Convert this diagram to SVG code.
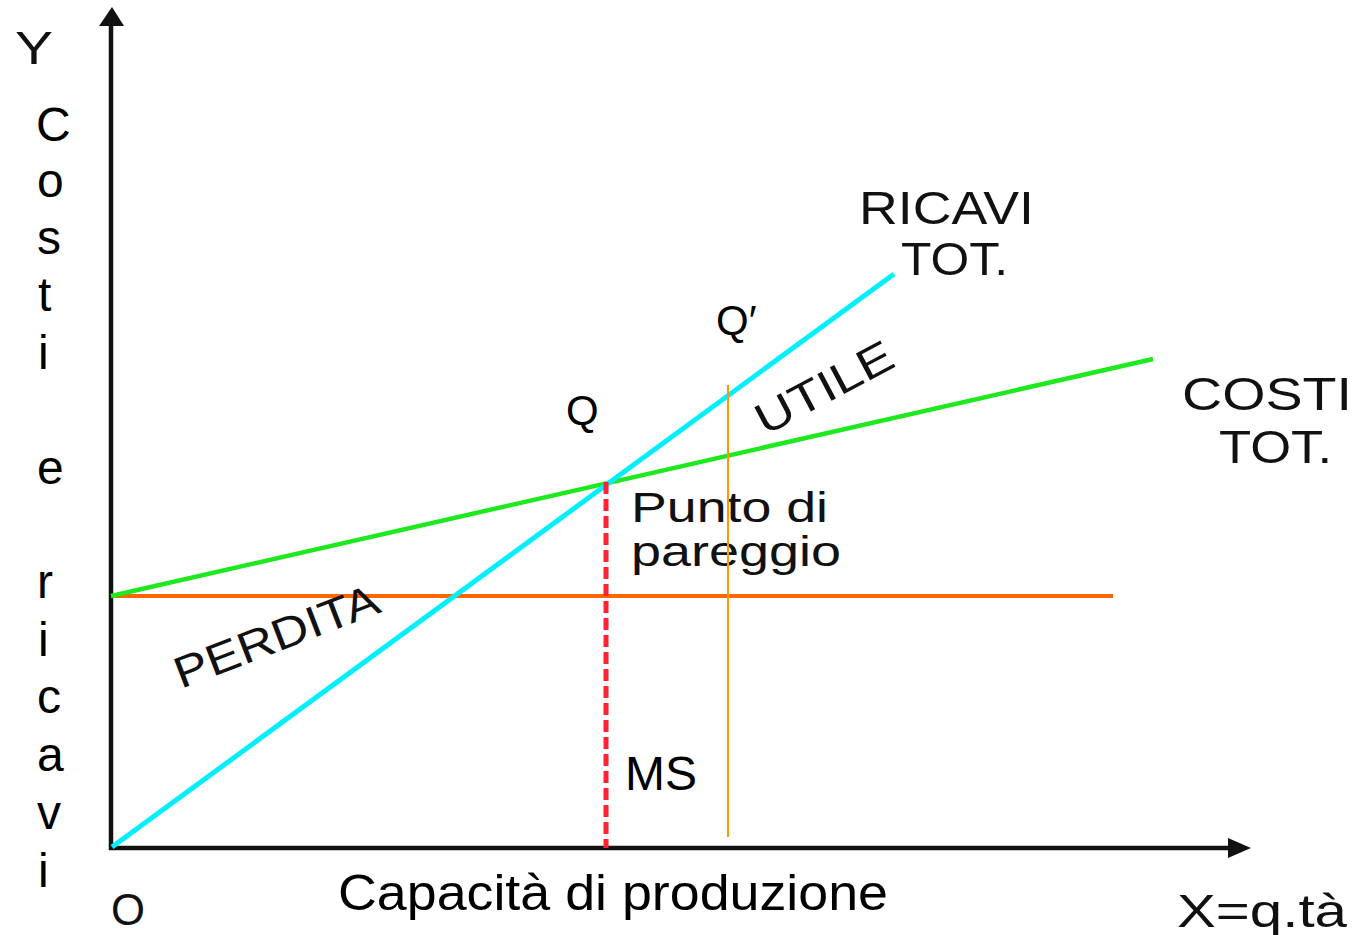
<svg xmlns="http://www.w3.org/2000/svg" width="1357" height="935" viewBox="0 0 1357 935">
<style>
.ax{stroke:#111;stroke-width:4.5;fill:none}
.thin{font-family:"Liberation Sans",Arial,sans-serif;fill:#000}
.hv{font-family:"Liberation Sans",Arial,sans-serif;fill:#111}
.vl{font-family:"Liberation Sans",Arial,sans-serif;font-size:48px;fill:#000}
</style>
<rect width="1357" height="935" fill="#fff"/>
<g id="connectors">
  <line class="ax" x1="111" y1="850" x2="111" y2="22"/>
  <polygon points="99,26 124,26 112,7" fill="#111"/>
  <line class="ax" x1="109" y1="848" x2="1232" y2="848"/>
  <polygon points="1228,838 1228,858 1251,848" fill="#111"/>
  <line x1="111" y1="596" x2="1113" y2="596" stroke="#ff6600" stroke-width="4"/>
  <line x1="111" y1="596" x2="1153" y2="359" stroke="#1ee81e" stroke-width="4.5"/>
  <line x1="112" y1="847" x2="894" y2="274" stroke="#00f0ff" stroke-width="5"/>
  <line x1="606" y1="482" x2="606" y2="848" stroke="#ff2233" stroke-width="5" stroke-dasharray="12 5"/>
</g>
<g id="label-y"><text class="hv" x="15" y="64" font-size="47" textLength="38" lengthAdjust="spacingAndGlyphs">Y</text></g>
<g id="label-axis-y">
  <text class="vl" x="36" y="141">C</text>
  <text class="vl" x="37" y="197">o</text>
  <text class="vl" x="37" y="254">s</text>
  <text class="vl" x="38" y="311">t</text>
  <text class="vl" x="38" y="369">i</text>
  <text class="vl" x="37" y="484">e</text>
  <text class="vl" x="37" y="598">r</text>
  <text class="vl" x="38" y="656">i</text>
  <text class="vl" x="37" y="713">c</text>
  <text class="vl" x="37" y="771">a</text>
  <text class="vl" x="37" y="829">v</text>
  <text class="vl" x="38" y="887">i</text>
</g>
<g id="label-origin"><text class="hv" x="111" y="925" font-size="45" textLength="34" lengthAdjust="spacingAndGlyphs">O</text></g>
<g id="label-x"><text class="hv" x="1177" y="927" font-size="47" textLength="170" lengthAdjust="spacingAndGlyphs">X=q.tà</text></g>
<g id="label-capacita"><text class="thin" x="338" y="910" font-size="50" textLength="550" lengthAdjust="spacingAndGlyphs">Capacità di produzione</text></g>
<g id="label-ricavi">
  <text class="hv" x="859" y="224" font-size="47" textLength="175" lengthAdjust="spacingAndGlyphs">RICAVI</text>
  <text class="hv" x="901" y="275" font-size="47" textLength="107" lengthAdjust="spacingAndGlyphs">TOT.</text>
</g>
<g id="label-costi">
  <text class="hv" x="1182" y="410" font-size="47" textLength="170" lengthAdjust="spacingAndGlyphs">COSTI</text>
  <text class="hv" x="1219" y="463" font-size="47" textLength="113" lengthAdjust="spacingAndGlyphs">TOT.</text>
</g>
<g id="label-q"><text class="thin" x="566" y="425" font-size="42">Q</text></g>
<g id="label-q2"><text class="thin" x="716" y="335" font-size="42">Q′</text></g>
<g id="label-ms"><text class="thin" x="625" y="790" font-size="48">MS</text></g>
<g id="label-pareggio">
  <text class="hv" x="631" y="522" font-size="42" textLength="197" lengthAdjust="spacingAndGlyphs">Punto di</text>
  <text class="hv" x="631" y="566" font-size="42" textLength="210" lengthAdjust="spacingAndGlyphs">pareggio</text>
</g>
<g id="label-utile"><text class="hv" transform="translate(765,436) rotate(-28)" font-size="44" textLength="150" lengthAdjust="spacingAndGlyphs">UTILE</text></g>
<g id="label-perdita"><text class="hv" transform="translate(181,689) rotate(-21)" font-size="44" textLength="216" lengthAdjust="spacingAndGlyphs">PERDITA</text></g>
<g id="connector-qprime"><line x1="728" y1="385" x2="728" y2="837" stroke="#ff9900" stroke-width="2"/></g>
</svg>
